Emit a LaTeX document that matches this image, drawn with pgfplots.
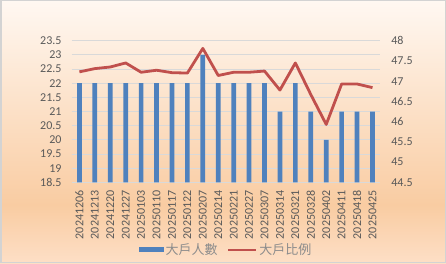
\documentclass[border=0pt]{standalone}
\usepackage{pgfplots}
\pgfplotsset{compat=1.18}
\usepackage{fontspec}
\setmainfont{Carlito}
\newfontfamily\cjk{Noto Sans CJK TC}
\definecolor{barblue}{HTML}{4F81BD}
\definecolor{linered}{HTML}{C0504D}
\definecolor{ticktext}{HTML}{595959}
\definecolor{legtext}{HTML}{8C8C8C}
\definecolor{gridc}{HTML}{D9D9D9}
\definecolor{bgtop}{HTML}{FFF8F2}
\definecolor{bgpeak}{HTML}{F9CCA2}
\definecolor{bgbot}{HTML}{FDDFC6}
\definecolor{framec}{HTML}{D3D3D3}
\pgfdeclareverticalshading{bgshade}{100bp}{color(0bp)=(bgbot); color(25bp)=(bgbot); color(36bp)=(bgpeak); color(75bp)=(bgtop); color(100bp)=(bgtop)}
\begin{document}
\begin{tikzpicture}
\useasboundingbox (0,0) rectangle (446pt,263pt);
\shade[shading=bgshade] (0,0) rectangle (446pt,263pt);
\draw[framec, line width=1.5pt] (0.75pt,0.75pt) rectangle (445.25pt,262.25pt);
\pgfplotsset{
  every axis/.append style={
    at={(71.7pt,80.7pt)}, anchor=south west, scale only axis,
    width=308.5pt, height=141.6pt,
    xmin=-0.5, xmax=19.5,
    axis line style={draw=none}, major tick length=0pt,
    tick label style={font=\fontsize{12}{12}\selectfont, text=ticktext, inner sep=0pt},
    /pgf/number format/assume math mode=true,
  }
}
\begin{axis}[
  ymin=18.5, ymax=23.5,
  ytick={18.5,19,19.5,20,20.5,21,21.5,22,22.5,23,23.5},
  yticklabels={18.5,19,19.5,20,20.5,21,21.5,22,22.5,23,23.5},
  axis y line*=left, axis x line*=bottom,
  ymajorgrids, grid style={gridc, line width=0.9pt},
  yticklabel shift=10pt, xticklabel shift=8pt,
  xtick={0,...,19},
  xticklabels={20241206,20241213,20241220,20241227,20250103,20250110,20250117,20250122,20250207,20250214,20250221,20250227,20250307,20250314,20250321,20250328,20250402,20250411,20250418,20250425},
  x tick label style={rotate=90, anchor=east},
  legend columns=2,
  legend style={at={(axis description cs:0.5,-0.478)}, anchor=center, draw=none, fill=none,
    font=\cjk\fontsize{13}{13}\selectfont, text=legtext, nodes={inner sep=1.5pt}},
  /tikz/every even column/.append style={column sep=8pt},
]
\addplot[ybar, bar width=4.7pt, fill=barblue, draw=none,
  legend image code/.code={\fill[barblue] (0pt,-2.5pt) rectangle (25pt,2.5pt);}]
  coordinates {(0,22) (1,22) (2,22) (3,22) (4,22) (5,22) (6,22) (7,22) (8,23) (9,22)
  (10,22) (11,22) (12,22) (13,21) (14,22) (15,21) (16,20) (17,21) (18,21) (19,21)};
\addlegendentry{大戶人數}
\addlegendimage{legend image code/.code={\draw[linered, line width=2.8pt] (0pt,0pt) -- (28pt,0pt);}}
\addlegendentry{大戶比例}
\end{axis}
\begin{axis}[
  ymin=44.5, ymax=48,
  ytick={44.5,45,45.5,46,46.5,47,47.5,48},
  yticklabels={44.5,45,45.5,46,46.5,47,47.5,48},
  axis y line*=right, axis x line=none,
  yticklabel shift=11pt,
  y tick label style={anchor=west},
]
\addplot[linered, line width=2.8pt, line join=round] coordinates {
(0,47.23) (1,47.31) (2,47.35) (3,47.45) (4,47.22) (5,47.27) (6,47.21) (7,47.20) (8,47.81) (9,47.14)
(10,47.22) (11,47.22) (12,47.25) (13,46.78) (14,47.45) (15,46.67) (16,45.93) (17,46.93) (18,46.93) (19,46.84)};
\end{axis}
\end{tikzpicture}
\end{document}
